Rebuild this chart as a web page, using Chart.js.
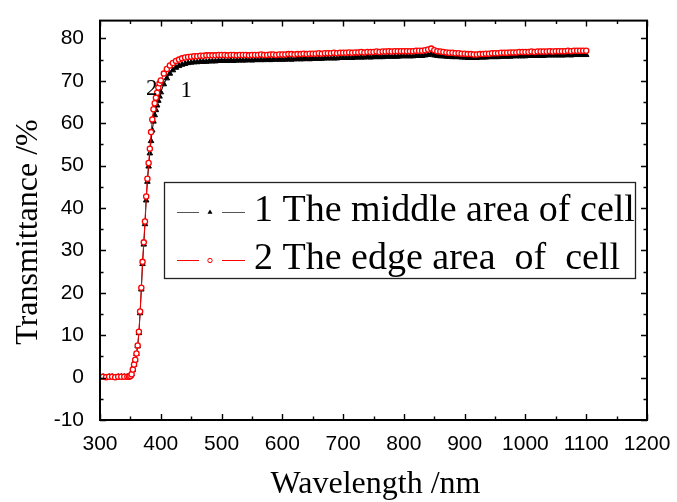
<!DOCTYPE html>
<html>
<head>
<meta charset="utf-8">
<script src="https://cdn.jsdelivr.net/npm/chart.js@4.4.0/dist/chart.umd.min.js"></script>
<style>
  html, body { margin: 0; padding: 0; background: #fff; }
  #wrap { width: 677px; height: 502px; }
</style>
</head>
<body>
<div id="wrap"><canvas id="myChart" width="677" height="502"></canvas></div>
<script>
// wavelength in nm
var wavelength = [
    300,305,310,315,320,325,330,335,340,345,
    348,350,352,354,356,358,360,362,364,366,368,370,372,374,376,378,380,382,384,386,388,390,392,394,396,398,400,
    405,410,415,420,425,430,435,440,445,450,455,460,465,470,475,480,485,490,495,500,
    505,510,515,520,525,530,535,540,545,550,555,560,565,570,575,580,585,590,595,600,
    605,610,615,620,625,630,635,640,645,650,655,660,665,670,675,680,685,690,695,700,
    705,710,715,720,725,730,735,740,745,750,755,760,765,770,775,780,785,790,795,800,
    805,810,815,820,825,830,835,840,845,850,855,860,865,870,875,880,885,890,895,900,
    905,910,915,920,925,930,935,940,945,950,955,960,965,970,975,980,985,990,995,1000,
    1005,1010,1015,1020,1025,1030,1035,1040,1045,1050,1055,1060,1065,1070,1075,1080,1085,1090,1095,1100
];

// 1 The middle area of cell (%)
var middleArea = [
    0.2,0.2,0.1,0.2,0.2,0.1,0.2,0.2,0.2,0.2,
    0.2,0.4,0.8,1.8,3.0,4.1,5.6,7.4,10.5,15.2,20.8,26.8,31.4,36.2,41.8,46.2,49.8,52.9,55.8,58.3,60.4,61.9,63.1,64.2,65.3,66.3,67.3,
    69.2,70.6,71.7,72.5,73.1,73.5,73.8,74.0,74.2,74.3,74.4,74.4,74.5,74.5,74.5,74.6,74.6,74.6,74.7,74.7,
    74.7,74.7,74.8,74.7,74.8,74.8,74.8,74.8,74.9,74.8,74.9,74.9,74.9,74.9,75.0,74.9,75.0,75.0,75.0,75.0,
    75.0,75.1,75.0,75.1,75.1,75.1,75.1,75.2,75.1,75.2,75.2,75.2,75.2,75.3,75.3,75.3,75.3,75.3,75.4,75.4,
    75.4,75.4,75.4,75.5,75.5,75.5,75.5,75.6,75.5,75.6,75.6,75.6,75.6,75.7,75.7,75.7,75.7,75.7,75.8,75.8,
    75.8,75.8,75.8,75.9,75.9,75.9,76.0,76.1,76.3,76.0,75.9,75.8,75.8,75.7,75.7,75.6,75.6,75.6,75.5,75.5,
    75.4,75.4,75.4,75.4,75.5,75.5,75.5,75.6,75.6,75.6,75.6,75.7,75.7,75.7,75.7,75.8,75.8,75.8,75.8,75.8,
    75.9,75.9,75.9,75.9,75.9,75.9,76.0,76.0,76.0,76.0,76.0,76.0,76.0,76.1,76.0,76.1,76.1,76.1,76.1,76.1
];

// 2 The edge area of cell (%)
var edgeArea = [
    0.2,0.2,0.1,0.2,0.2,0.1,0.2,0.2,0.2,0.2,
    0.2,0.4,0.8,1.9,3.1,4.2,5.7,7.6,10.8,15.6,21.2,27.3,31.9,36.8,42.7,46.9,50.6,54.0,57.9,60.9,63.3,64.7,66.0,67.2,68.4,69.4,70.1,
    71.7,72.8,73.6,74.2,74.7,75.0,75.3,75.5,75.6,75.7,75.8,75.8,75.9,75.9,76.0,76.0,76.0,76.0,76.1,76.1,
    76.1,76.0,76.1,76.1,76.0,76.1,76.1,76.1,76.0,76.1,76.1,76.1,76.2,76.1,76.1,76.2,76.2,76.1,76.2,76.2,
    76.2,76.3,76.3,76.2,76.3,76.3,76.4,76.3,76.4,76.4,76.4,76.5,76.4,76.5,76.5,76.5,76.6,76.5,76.6,76.6,
    76.6,76.7,76.6,76.7,76.7,76.8,76.7,76.8,76.8,76.8,76.9,76.8,76.9,76.9,77.0,76.9,77.0,77.0,77.0,77.0,
    77.0,77.0,77.0,77.1,77.1,77.1,77.2,77.4,77.6,77.2,77.0,76.9,76.8,76.7,76.6,76.6,76.5,76.5,76.4,76.4,
    76.3,76.3,76.2,76.2,76.3,76.3,76.4,76.4,76.5,76.5,76.5,76.6,76.6,76.6,76.7,76.7,76.7,76.8,76.8,76.8,
    76.8,76.9,76.8,76.9,76.9,76.9,76.9,77.0,76.9,77.0,77.0,77.0,77.0,77.1,77.0,77.1,77.1,77.1,77.1,77.1
];

var xTicks = [300, 400, 500, 600, 700, 800, 900, 1000, 1100, 1200];
var xMinorTicks = [350, 450, 550, 650, 750, 850, 950, 1050, 1150];
var yTicks = [-10, 0, 10, 20, 30, 40, 50, 60, 70, 80];
var yMinorTicks = [-5, 5, 15, 25, 35, 45, 55, 65, 75];
var legendLabels = ['1 The middle area of cell', '2 The edge area  of  cell'];
var curveLabels = ['1', '2'];

function toPoints(xs, ys) {
    var pts = [];
    for (var i = 0; i < xs.length; i++) {
        pts.push({x: xs[i], y: ys[i]});
    }
    return pts;
}

var SERIF = '"Liberation Serif", "Times New Roman", serif';
var SANS = '"Liberation Sans", Arial, sans-serif';

// frame, inward ticks on all four sides, titles, legend and curve numbers
var decorations = {
    id: 'decorations',
    afterDatasetsDraw: function(chart) {
        var ctx = chart.ctx;
        var a = chart.chartArea;
        var xs = chart.scales.x, ys = chart.scales.y;
        ctx.save();

        ctx.strokeStyle = '#000';
        ctx.lineWidth = 2;
        ctx.strokeRect(a.left, a.top, a.right - a.left, a.bottom - a.top);

        function xTick(v, len) {
            var px = Math.round(xs.getPixelForValue(v)) + 0.5;
            ctx.beginPath();
            ctx.moveTo(px, a.bottom); ctx.lineTo(px, a.bottom - len);
            ctx.moveTo(px, a.top); ctx.lineTo(px, a.top + len);
            ctx.stroke();
        }
        function yTick(v, len) {
            var py = Math.round(ys.getPixelForValue(v)) + 0.5;
            ctx.beginPath();
            ctx.moveTo(a.left, py); ctx.lineTo(a.left + len, py);
            ctx.moveTo(a.right, py); ctx.lineTo(a.right - len, py);
            ctx.stroke();
        }
        ctx.lineWidth = 1.4;
        xTicks.forEach(function(v) { xTick(v, 6); });
        xMinorTicks.forEach(function(v) { xTick(v, 3.5); });
        yTicks.forEach(function(v) { yTick(v, 6); });
        yMinorTicks.forEach(function(v) { yTick(v, 3.5); });

        // axis titles
        ctx.fillStyle = '#000';
        ctx.font = '32px ' + SERIF;
        ctx.textAlign = 'center';
        ctx.textBaseline = 'alphabetic';
        ctx.fillText('Wavelength /nm', (a.left + a.right) / 2 + 2, 493);
        ctx.save();
        ctx.translate(37, 232);
        ctx.rotate(-Math.PI / 2);
        ctx.fillText('Transmittance /%', 0, 0);
        ctx.restore();

        // curve numbers
        ctx.font = '23px ' + SERIF;
        ctx.textBaseline = 'middle';
        ctx.fillText(curveLabels[0], xs.getPixelForValue(442), ys.getPixelForValue(67.6));
        ctx.fillText(curveLabels[1], xs.getPixelForValue(385), ys.getPixelForValue(68.0));

        // legend
        var lx = 164, ly = 182, lw = 471, lh = 96;
        ctx.fillStyle = '#fff';
        ctx.fillRect(lx, ly, lw, lh);
        ctx.strokeStyle = '#222';
        ctx.lineWidth = 1.3;
        ctx.strokeRect(lx + 0.5, ly + 0.5, lw, lh);
        var rows = [212, 260];
        var ds = chart.data.datasets;
        for (var i = 0; i < 2; i++) {
            var d = ds[i];
            var cy = rows[i];
            ctx.strokeStyle = d.legendLine;
            ctx.lineWidth = 1;
            ctx.beginPath();
            ctx.moveTo(177, cy + 0.5); ctx.lineTo(199, cy + 0.5);
            ctx.moveTo(222, cy + 0.5); ctx.lineTo(245, cy + 0.5);
            ctx.stroke();
            if (d.pointStyle === 'triangle') {
                ctx.fillStyle = '#000';
                ctx.beginPath();
                ctx.moveTo(210, cy - 2.5);
                ctx.lineTo(212.5, cy + 1.8);
                ctx.lineTo(207.5, cy + 1.8);
                ctx.closePath();
                ctx.fill();
            } else {
                ctx.fillStyle = '#fff';
                ctx.strokeStyle = d.borderColor;
                ctx.beginPath();
                ctx.arc(210, cy + 0.5, 2.2, 0, Math.PI * 2);
                ctx.fill();
                ctx.stroke();
            }
            ctx.fillStyle = '#000';
            ctx.font = '38px ' + SERIF;
            ctx.textAlign = 'left';
            ctx.textBaseline = 'alphabetic';
            ctx.fillText(d.label, 254, cy + 9);
        }
        ctx.restore();
    }
};

var chartData = {
    type: 'scatter',
    data: {
        datasets: [{
            label: legendLabels[0],
            data: toPoints(wavelength, middleArea),
            showLine: true,
            borderColor: '#000000',
            legendLine: '#555555',
            borderWidth: 1,
            backgroundColor: '#000000',
            pointStyle: 'triangle',
            pointRadius: 3.2,
            pointBorderWidth: 1,
            pointBorderColor: '#000000',
            pointBackgroundColor: '#000000',
            order: 1
        }, {
            label: legendLabels[1],
            data: toPoints(wavelength, edgeArea),
            showLine: true,
            borderColor: '#ff0000',
            legendLine: '#ff0000',
            borderWidth: 1,
            backgroundColor: '#ffffff',
            pointStyle: 'circle',
            pointRadius: 2.6,
            pointBorderWidth: 1.3,
            pointBorderColor: '#ff0000',
            pointBackgroundColor: '#ffffff',
            order: 0
        }]
    },
    options: {
        responsive: false,
        animation: false,
        devicePixelRatio: 1,
        layout: { padding: { left: 0, right: 30, top: 17, bottom: 0 } },
        plugins: {
            legend: { display: false },
            tooltip: { enabled: false }
        },
        scales: {
            x: {
                type: 'linear',
                min: 300,
                max: 1200,
                grid: { display: false },
                border: { display: false },
                afterFit: function(s) { s.height = 82; },
                afterBuildTicks: function(s) { s.ticks = xTicks.map(function(v) { return {value: v}; }); },
                ticks: {
                    color: '#000',
                    font: { family: SANS, size: 21 },
                    padding: 4,
                    maxRotation: 0,
                    autoSkip: false,
                    callback: function(v) { return String(v); }
                }
            },
            y: {
                type: 'linear',
                min: -10,
                max: 84.2,
                grid: { display: false },
                border: { display: false },
                afterFit: function(s) { s.width = 100; },
                afterBuildTicks: function(s) { s.ticks = yTicks.map(function(v) { return {value: v}; }); },
                ticks: {
                    color: '#000',
                    font: { family: SANS, size: 21 },
                    padding: 8,
                    callback: function(v) { return String(v); }
                }
            }
        }
    },
    plugins: [decorations]
};

var ctx = document.getElementById('myChart').getContext('2d');
var myChart = new Chart(ctx, chartData);
</script>
</body>
</html>
